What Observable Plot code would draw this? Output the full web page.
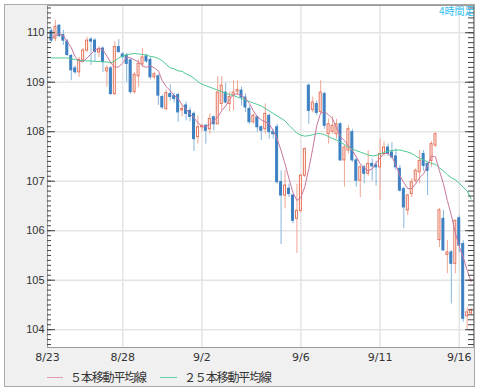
<!DOCTYPE html>
<html><head><meta charset="utf-8">
<script src="https://cdn.jsdelivr.net/npm/d3@7"></script>
<script src="https://cdn.jsdelivr.net/npm/@observablehq/plot@0.6"></script>
<style>
html,body{margin:0;padding:0;background:#fff;}
#wrap{position:relative;width:478px;height:392px;overflow:hidden;}
#box{position:absolute;left:4px;top:4px;width:469px;height:381px;border:1px solid #a9a9a9;background:#f0f0f0;}
#chart{position:absolute;left:0;top:0;}
#legend{position:absolute;top:369px;left:0;width:478px;height:16px;font-family:"Noto Sans CJK JP";font-size:12px;color:#333;line-height:16px;}
.swatch{position:absolute;top:8px;height:0;border-top:1px solid;}
.lab{position:absolute;top:0;white-space:nowrap;letter-spacing:0px;}
#tf{position:absolute;left:439px;top:5px;font-size:10px;line-height:12px;color:#30bef5;font-family:"Noto Sans CJK JP";}
</style></head>
<body>
<div id="wrap">
  <div id="box"></div>
  <div id="chart"></div>
  <div id="tf">4時間足</div>
  <div id="legend"></div>
</div>
<script>
// ---- data (4-hour bars, index = bar number) ----
const open = [110.03,109.88,110.14,109.95,109.82,109.53,109.28,109.20,109.44,109.64,
109.86,109.84,109.60,109.68,109.22,109.28,108.76,109.71,109.56,109.54,
109.44,108.80,109.12,109.36,109.52,109.45,109.10,109.12,108.70,108.46,
108.76,108.72,108.74,108.43,108.53,108.42,108.36,107.89,108.09,108.12,
108.05,108.29,108.15,108.56,108.79,108.56,108.73,108.81,108.83,108.69,
108.46,108.19,108.29,108.09,108.05,108.32,107.99,108.09,106.98,106.71,
106.85,106.71,106.24,106.40,107.11,108.93,108.44,108.56,108.40,108.76,
107.95,108.00,107.95,108.15,107.42,107.62,107.99,107.42,107.01,107.28,
107.15,107.35,107.32,107.28,107.55,107.68,107.58,107.50,107.25,106.84,
106.41,106.74,107.01,107.18,107.55,107.35,107.41,107.72,105.81,106.24,
105.51,105.56,105.33,106.25,105.73,104.27,104.33];
const high = [110.08,110.25,110.17,110.05,109.86,109.56,109.33,109.50,109.68,109.91,
109.90,109.88,109.72,109.71,109.34,109.32,109.82,109.86,109.60,109.58,
109.47,109.20,109.45,109.68,109.56,109.50,109.20,109.15,108.74,108.84,
108.95,108.78,108.78,108.53,108.60,108.48,108.40,108.32,108.15,108.15,
108.36,108.32,109.11,109.11,108.98,108.80,109.03,109.03,108.90,108.76,
108.52,108.36,108.32,108.12,108.56,108.36,108.05,108.15,107.21,107.21,
106.94,106.74,106.94,107.14,107.67,108.97,108.70,108.62,109.03,108.80,
108.26,108.30,108.25,108.18,107.72,108.12,108.05,107.48,107.32,107.32,
107.62,107.45,107.40,107.85,107.80,107.75,107.78,107.65,107.32,106.88,
106.74,107.05,107.25,107.62,107.62,107.38,107.80,107.98,106.45,106.41,
105.80,105.60,106.20,106.30,105.80,104.45,104.42];
const low = [109.80,109.82,109.90,109.74,109.52,109.03,109.16,109.10,109.40,109.60,
109.34,109.41,109.50,109.20,108.90,108.73,108.73,109.58,109.45,109.00,
108.76,108.76,108.90,109.30,109.38,109.05,109.05,108.53,108.45,108.42,
108.62,108.58,108.19,108.30,108.22,108.20,107.60,107.75,108.00,107.75,
107.95,108.02,108.15,108.42,108.56,108.40,108.42,108.73,108.52,108.39,
108.15,108.15,107.99,107.82,107.95,107.85,107.85,106.94,105.72,106.44,
106.67,106.14,105.54,106.36,107.07,108.15,108.38,108.33,108.35,108.05,
107.75,107.95,107.85,107.40,106.88,107.55,107.38,106.88,106.67,106.95,
107.10,107.00,106.90,106.61,107.50,107.50,107.45,107.22,106.78,106.04,
106.30,106.67,106.95,106.95,107.20,106.71,107.28,107.68,105.66,105.60,
105.13,104.52,105.13,105.55,104.15,104.00,104.28];
const close = [109.84,110.12,109.93,109.84,109.55,109.24,109.20,109.45,109.64,109.84,
109.82,109.61,109.66,109.41,109.28,108.76,109.71,109.61,109.51,109.37,
108.80,109.15,109.37,109.50,109.42,109.10,109.16,108.73,108.49,108.78,
108.70,108.66,108.39,108.46,108.36,108.30,107.85,108.09,108.12,108.02,
108.26,108.15,108.79,108.93,108.59,108.70,108.79,108.84,108.69,108.49,
108.19,108.32,108.09,108.02,108.36,107.99,107.95,106.98,106.71,106.91,
106.74,106.20,106.40,107.11,107.65,108.42,108.59,108.38,108.79,108.12,
108.15,108.12,108.15,107.42,107.68,108.05,107.42,107.01,107.28,107.15,
107.35,107.30,107.28,107.55,107.68,107.55,107.48,107.28,106.81,106.47,
106.71,106.98,107.21,107.41,107.31,107.21,107.75,107.95,106.41,105.60,
105.56,105.33,106.20,105.70,104.22,104.35,104.40];
const ma5 = [109.88,109.94,109.98,109.94,109.82,109.70,109.51,109.43,109.41,109.49,
109.57,109.65,109.69,109.65,109.53,109.39,109.30,109.31,109.39,109.51,
109.49,109.45,109.41,109.33,109.30,109.33,109.29,109.23,109.03,108.91,
108.83,108.73,108.67,108.54,108.46,108.36,108.28,108.18,108.10,108.10,
108.15,108.22,108.30,108.42,108.52,108.65,108.75,108.77,108.73,108.67,
108.57,108.42,108.30,108.24,108.20,108.16,108.02,107.86,107.62,107.35,
107.05,106.77,106.61,106.67,106.89,107.25,107.66,108.12,108.38,108.40,
108.34,108.26,108.08,107.90,107.82,107.72,107.62,107.49,107.35,107.27,
107.21,107.25,107.37,107.47,107.56,107.56,107.49,107.33,107.11,106.97,
106.85,106.85,106.95,107.07,107.15,107.31,107.51,107.49,107.21,106.95,
106.61,106.31,105.96,105.68,105.46,105.20,104.97];
const ma25 = [109.49,109.49,109.49,109.49,109.49,109.47,109.46,109.44,109.44,109.43,
109.43,109.42,109.42,109.41,109.41,109.39,109.43,109.49,109.53,109.55,
109.57,109.58,109.57,109.56,109.55,109.52,109.51,109.48,109.43,109.36,
109.29,109.27,109.23,109.22,109.17,109.13,109.08,109.01,108.96,108.93,
108.90,108.87,108.84,108.81,108.78,108.75,108.73,108.70,108.67,108.64,
108.61,108.58,108.55,108.52,108.47,108.42,108.37,108.32,108.27,108.22,
108.13,108.05,107.97,107.93,107.91,107.92,107.94,107.96,107.96,107.94,
107.90,107.86,107.83,107.79,107.74,107.69,107.65,107.62,107.59,107.56,
107.53,107.51,107.52,107.55,107.58,107.61,107.62,107.63,107.63,107.61,
107.59,107.56,107.51,107.46,107.43,107.39,107.36,107.34,107.27,107.21,
107.13,107.07,107.03,106.96,106.88,106.80,106.64];
const dateLabels = ["8/23","8/28","9/2","9/6","9/11","9/16"];
const dateBars = [-1,18,38,63,83,103];
const yTicks = [104,105,106,107,108,109,110];
const yLabels = ["104","105","106","107","108","109","110"];
const legendNames = ["５本移動平均線","２５本移動平均線"];

// ---- build table ----
const data = close.map((c, j) => ({j, o: open[j], h: high[j], l: low[j], c, ma5: ma5[j], ma25: ma25[j]}));
const ups = data.filter(d => d.c >= d.o);
const downs = data.filter(d => d.c < d.o);
const xLab = new Map(dateBars.map((b, i) => [b, dateLabels[i]]));
const yLab = new Map(yTicks.map((t, i) => [t, yLabels[i]]));
const yDomain = [103.64, 110.55];
const minorY = d3.range(Math.ceil(yDomain[0]*10), Math.floor(yDomain[1]*10)+1).map(v => v/10);

const C5 = "#c9769e", C25 = "#4cc990";
const upStroke = "#e5735a", upWick = "#f0a593", dnFill = "#3d80c2", dnWick = "#86b6df";

const chart = Plot.plot({
  width: 478, height: 366,
  marginLeft: 47, marginRight: 5, marginTop: 5, marginBottom: 19,
  style: {background: "transparent", fontFamily: "Liberation Sans", fontSize: "11px", color: "#333", overflow: "visible"},
  x: {domain: [-1, 106.6], axis: null},
  y: {domain: yDomain, axis: null},
  marks: [
    Plot.frame({fill: "white", stroke: null}),
    Plot.gridY({ticks: yTicks, stroke: "#e4e4e4", strokeOpacity: 1, strokeWidth: 1.5}),
    Plot.gridX({ticks: dateBars, stroke: "#e4e4e4", strokeOpacity: 1, strokeWidth: 1.5}),
    Plot.ruleX(ups, {x: "j", y1: "l", y2: "h", stroke: upWick}),
    Plot.ruleX(downs, {x: "j", y1: "l", y2: "h", stroke: dnWick}),
    Plot.rect(ups, {x1: d => d.j - 0.25, x2: d => d.j + 0.25, y1: "o", y2: "c", fill: "white", stroke: upStroke, strokeWidth: 1}),
    Plot.rect(downs, {x1: d => d.j - 0.25, x2: d => d.j + 0.25, y1: "o", y2: "c", fill: dnFill, stroke: dnFill, strokeWidth: 1}),
    Plot.line(data, {x: "j", y: "ma25", stroke: C25, strokeWidth: 1}),
    Plot.line(data, {x: "j", y: "ma5", stroke: C5, strokeWidth: 1}),
    Plot.frame({stroke: "#9a9a9a"}),
    Plot.axisY({ticks: minorY, tickSize: 4, dx: 4, fill: "none", stroke: "#444", label: null}),
    Plot.axisY({ticks: yTicks, tickSize: 8, dx: 8, fill: "none", stroke: "#444", label: null}),
    Plot.axisY({anchor: "right", ticks: minorY, tickSize: 6, dx: -6, fill: "none", stroke: "#444", label: null}),
    Plot.axisY({anchor: "right", ticks: yTicks, tickSize: 9, dx: -9, fill: "none", stroke: "#444", label: null}),
    Plot.axisY({ticks: yTicks, tickSize: 0, tickPadding: 3, tickFormat: d => yLab.get(d), fill: "#333", label: null, fontSize: 11}),
    Plot.axisX({ticks: dateBars, tickSize: 0, tickPadding: 6, tickFormat: d => xLab.get(d), fill: "#333", label: null, fontFamily: "DejaVu Sans", fontSize: 11})
  ]
});
document.getElementById("chart").appendChild(chart);

// ---- legend ----
const leg = document.getElementById("legend");
const items = [
  {name: legendNames[0], color: "#e49ab8", x: 47, w: 16, span: 76},
  {name: legendNames[1], color: "#62d0a2", x: 160, w: 17, span: 87}
];
for (const it of items) {
  const sw = document.createElement("div");
  sw.className = "swatch";
  sw.style.left = it.x + "px"; sw.style.width = it.w + "px"; sw.style.borderTopColor = it.color;
  leg.appendChild(sw);
  const lb = document.createElement("div");
  lb.className = "lab";
  lb.style.left = (it.x + it.w + 7) + "px";
  lb.textContent = it.name;
  leg.appendChild(lb);
  const natural = lb.getBoundingClientRect().width;
  const n = [...it.name].length;
  lb.style.letterSpacing = ((it.span - natural) / n).toFixed(2) + "px";
}
</script>
</body></html>
